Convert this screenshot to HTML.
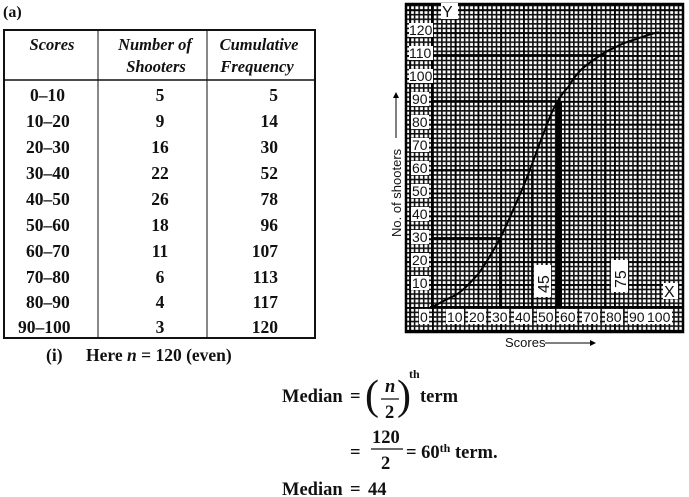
<!DOCTYPE html>
<html><head><meta charset="utf-8"><style>
html,body{margin:0;padding:0;background:#fff;}
svg{display:block;}
.s{font-family:"Liberation Serif",serif;font-weight:bold;font-size:17.5px;fill:#111;}
.m{font-family:"Liberation Serif",serif;font-weight:bold;font-size:18.5px;fill:#111;}
.h{font-family:"Liberation Serif",serif;font-style:italic;font-weight:bold;font-size:16.5px;fill:#111;}
.g{font-family:"Liberation Sans",sans-serif;font-size:14px;fill:#111;}
</style></head><body>
<svg width="689" height="497" viewBox="0 0 689 497" xmlns="http://www.w3.org/2000/svg">
<defs>
<pattern id="gp" x="432" y="307" width="4.55" height="4.58" patternUnits="userSpaceOnUse">
<rect width="4.55" height="4.58" fill="#fff"/>
<rect x="0" y="0" width="1.6" height="4.58" fill="#111"/>
<rect x="0" y="0" width="4.55" height="1.6" fill="#111"/>
</pattern>
<pattern id="gm" x="432" y="307" width="22.75" height="22.9" patternUnits="userSpaceOnUse">
<rect x="0" y="0" width="1.8" height="22.9" fill="#000"/>
<rect x="0" y="0" width="22.75" height="1.8" fill="#000"/>
</pattern>
</defs>
<text x="3" y="17" class="s" style="font-size:16px">(a)</text>
<rect x="4" y="30" width="311" height="308" fill="none" stroke="#111" stroke-width="2"/>
<line x1="4" y1="80" x2="315" y2="80" stroke="#111" stroke-width="1.5"/>
<line x1="98" y1="30" x2="98" y2="338" stroke="#111" stroke-width="1"/>
<line x1="207" y1="30" x2="207" y2="338" stroke="#111" stroke-width="1"/>
<text x="52" y="50" class="h" text-anchor="middle">Scores</text>
<text x="155" y="50" class="h" text-anchor="middle">Number of</text>
<text x="156" y="72" class="h" text-anchor="middle">Shooters</text>
<text x="259" y="50" class="h" text-anchor="middle">Cumulative</text>
<text x="257" y="72" class="h" text-anchor="middle">Frequency</text>
<g class="s">
<text x="30" y="101">0–10</text><text x="160" y="101" text-anchor="middle">5</text><text x="278" y="101" text-anchor="end">5</text>
<text x="26" y="127">10–20</text><text x="160" y="127" text-anchor="middle">9</text><text x="278" y="127" text-anchor="end">14</text>
<text x="26" y="153">20–30</text><text x="160" y="153" text-anchor="middle">16</text><text x="278" y="153" text-anchor="end">30</text>
<text x="26" y="179">30–40</text><text x="160" y="179" text-anchor="middle">22</text><text x="278" y="179" text-anchor="end">52</text>
<text x="26" y="205">40–50</text><text x="160" y="205" text-anchor="middle">26</text><text x="278" y="205" text-anchor="end">78</text>
<text x="26" y="231">50–60</text><text x="160" y="231" text-anchor="middle">18</text><text x="278" y="231" text-anchor="end">96</text>
<text x="26" y="257">60–70</text><text x="160" y="257" text-anchor="middle">11</text><text x="278" y="257" text-anchor="end">107</text>
<text x="26" y="283">70–80</text><text x="160" y="283" text-anchor="middle">6</text><text x="278" y="283" text-anchor="end">113</text>
<text x="26" y="308">80–90</text><text x="160" y="308" text-anchor="middle">4</text><text x="278" y="308" text-anchor="end">117</text>
<text x="18" y="333">90–100</text><text x="160" y="333" text-anchor="middle">3</text><text x="278" y="333" text-anchor="end">120</text>
</g>
<text x="46" y="361" class="s">(i)</text>
<text x="86" y="361" class="s">Here <tspan font-style="italic">n</tspan> = 120 (even)</text>
<g class="m">
<text x="282" y="402">Median</text>
<text x="350" y="402">=</text>
<text x="365" y="409" style="font-size:42px;font-weight:normal">(</text>
<text x="385" y="392" font-style="italic">n</text>
<line x1="381" y1="399" x2="399" y2="399" stroke="#111" stroke-width="1.2"/>
<text x="385" y="418">2</text>
<text x="397" y="409" style="font-size:42px;font-weight:normal">)</text>
<text x="409" y="378" style="font-size:12px">th</text>
<text x="420" y="402">term</text>
<text x="350" y="458">=</text>
<text x="372" y="443">120</text>
<line x1="371" y1="449" x2="403" y2="449" stroke="#111" stroke-width="1.2"/>
<text x="381" y="469">2</text>
<text x="406" y="458">= 60<tspan dy="-6" style="font-size:12px">th</tspan><tspan dy="6"> term.</tspan></text>
<text x="282" y="495">Median</text>
<text x="350" y="495">=</text>
<text x="368" y="495">44</text>
</g>
<rect x="406" y="4" width="277" height="328" fill="url(#gp)"/>
<rect x="406" y="4" width="277" height="328" fill="url(#gm)"/>
<rect x="406" y="4" width="277" height="328" fill="none" stroke="#000" stroke-width="2.5"/>
<line x1="432" y1="4" x2="432" y2="309" stroke="#000" stroke-width="2"/>
<line x1="430" y1="307" x2="683" y2="307" stroke="#000" stroke-width="2"/>
<g stroke="#000" stroke-width="1.8">
<line x1="432" y1="55" x2="605" y2="55"/><line x1="605" y1="55" x2="605" y2="307"/>
<line x1="432" y1="101" x2="560" y2="101"/>
<line x1="432" y1="170" x2="532" y2="170"/><line x1="532" y1="170" x2="532" y2="307"/>
<line x1="432" y1="238" x2="500" y2="238"/><line x1="500" y1="238" x2="500" y2="307"/>
</g>
<rect x="556" y="101" width="6" height="206" fill="#000"/>
<path d="M432,307 C440,303 447,299 454.7,295.6 C463,291 470,283 477.4,275 C486,264 493,251 500.1,238.3 C508,223 515,205 522.8,187.9 C531,168 538,147 545.5,128.4 C552,110 559,96 568.2,87.2 C575,75 583,67 590.9,62 C599,56 606,51 613.6,48.2 C621,44 629,41 636.3,39.1 C644,36 651,34 659,32.2" fill="none" stroke="#000" stroke-width="2"/>
<g class="g">
<rect x="441" y="3" width="17" height="16" fill="#fff"/><text x="442" y="17" style="font-size:16px">Y</text>
<rect x="663" y="283" width="15" height="16" fill="#fff"/><text x="664" y="297" style="font-size:16px">X</text>
<g fill="#fff">
<rect x="419" y="309" width="10" height="15"/><rect x="446" y="309" width="18" height="15"/><rect x="468" y="309" width="18" height="15"/><rect x="491" y="309" width="18" height="15"/><rect x="514" y="309" width="18" height="15"/><rect x="537" y="309" width="18" height="15"/><rect x="559" y="309" width="18" height="15"/><rect x="582" y="309" width="18" height="15"/><rect x="605" y="309" width="18" height="15"/><rect x="628" y="309" width="18" height="15"/><rect x="646" y="309" width="26" height="15"/>
</g>
<text x="420" y="322">0</text><text x="447" y="322">10</text><text x="469" y="322">20</text><text x="492" y="322">30</text><text x="515" y="322">40</text><text x="538" y="322">50</text><text x="560" y="322">60</text><text x="583" y="322">70</text><text x="606" y="322">80</text><text x="629" y="322">90</text><text x="647" y="322">100</text>
<g fill="#fff">
<rect x="409" y="23" width="24" height="14"/><rect x="409" y="46" width="24" height="14"/><rect x="409" y="69" width="24" height="14"/><rect x="411" y="92" width="18" height="14"/><rect x="411" y="115" width="18" height="14"/><rect x="411" y="138" width="18" height="14"/><rect x="411" y="161" width="18" height="14"/><rect x="411" y="184" width="18" height="14"/><rect x="411" y="207" width="18" height="14"/><rect x="411" y="230" width="18" height="14"/><rect x="411" y="253" width="18" height="14"/><rect x="411" y="276" width="18" height="14"/>
</g>
<text x="409" y="35">120</text><text x="409" y="58">110</text><text x="409" y="81">100</text><text x="412" y="104">90</text><text x="412" y="127">80</text><text x="412" y="150">70</text><text x="412" y="173">60</text><text x="412" y="196">50</text><text x="412" y="219">40</text><text x="412" y="242">30</text><text x="412" y="265">20</text><text x="412" y="288">10</text>
<rect x="534" y="265" width="17" height="32" fill="#fff"/>
<text transform="translate(549,293) rotate(-90)" style="font-size:16px">45</text>
<rect x="611" y="260" width="17" height="32" fill="#fff"/>
<text transform="translate(626,288) rotate(-90)" style="font-size:16px">75</text>
<text x="505" y="347" style="font-size:13px">Scores</text>
<text transform="translate(401,237) rotate(-90)" style="font-size:13px">No. of shooters</text>
</g>
<line x1="545" y1="343" x2="590" y2="343" stroke="#000" stroke-width="1"/>
<path d="M590,340 L596,343 L590,346 Z" fill="#000"/>
<line x1="396" y1="138" x2="396" y2="98" stroke="#000" stroke-width="1"/>
<path d="M393,98 L396,92 L399,98 Z" fill="#000"/>
</svg>
</body></html>
